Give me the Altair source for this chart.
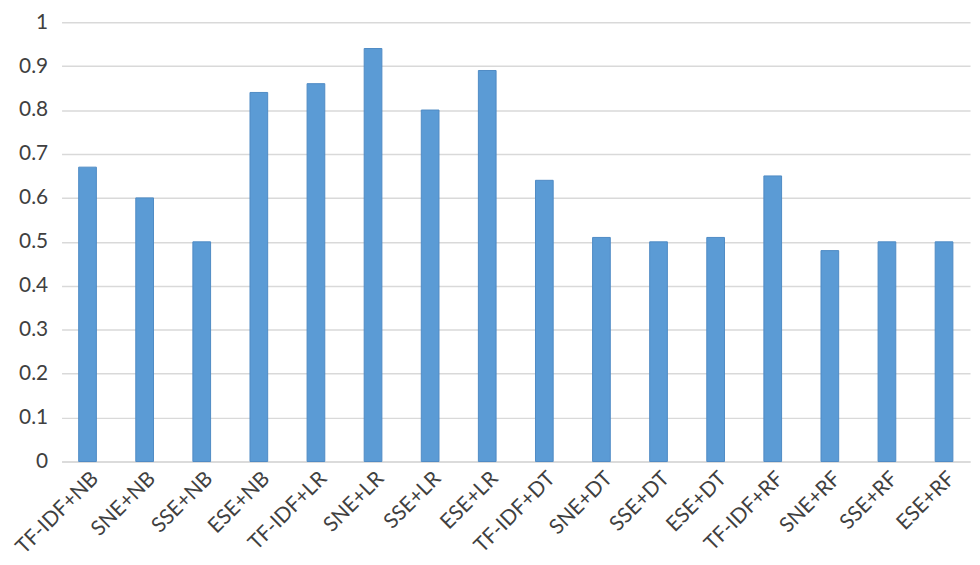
import altair as alt
import pandas as pd

categories = ["TF-IDF+NB", "SNE+NB", "SSE+NB", "ESE+NB",
              "TF-IDF+LR", "SNE+LR", "SSE+LR", "ESE+LR",
              "TF-IDF+DT", "SNE+DT", "SSE+DT", "ESE+DT",
              "TF-IDF+RF", "SNE+RF", "SSE+RF", "ESE+RF"]
values = [0.67, 0.60, 0.50, 0.84,
          0.86, 0.94, 0.80, 0.89,
          0.64, 0.51, 0.50, 0.51,
          0.65, 0.48, 0.50, 0.50]

df = pd.DataFrame({"cat": categories, "val": values})

FONT = "Lato"

chart = alt.Chart(df).mark_bar(color="#5B9BD5", stroke="#4F8BC4", strokeWidth=1).encode(
    x=alt.X("cat:N", sort=categories,
            scale=alt.Scale(paddingInner=0.69, paddingOuter=0.3),
            axis=alt.Axis(title=None, labelAngle=-45, labelFontSize=21,
                          labelColor="#404040", labelFont=FONT, ticks=False,
                          domainColor="#d9d9d9", domainWidth=1.5,
                          labelPadding=6, labelAlign="right", labelBaseline="top")),
    y=alt.Y("val:Q", scale=alt.Scale(domain=[0, 1]),
            axis=alt.Axis(title=None, values=[i / 10 for i in range(11)],
                          format="~g", labelFontSize=21, labelColor="#404040",
                          labelFont=FONT, ticks=False, domain=False,
                          gridColor="#d9d9d9", gridWidth=1.5, labelPadding=14)),
).properties(
    width=916, height=443,
    padding={"left": 54, "top": 12, "right": 2, "bottom": 94},
    autosize=alt.AutoSizeParams(type="none"),
).configure_view(stroke=None)

chart.save("out.html", embed_options={"renderer": "svg", "actions": False})
